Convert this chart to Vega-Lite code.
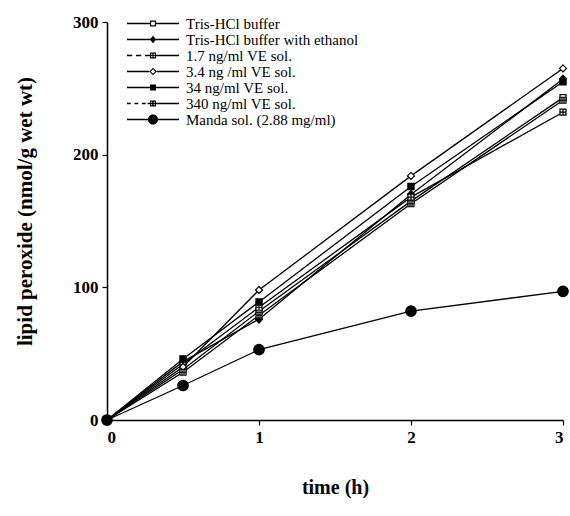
{
  "$schema": "https://vega.github.io/schema/vega-lite/v6.json",
  "width": 456,
  "height": 398,
  "autosize": "none",
  "padding": {"left": 107, "top": 22, "right": 7, "bottom": 96},
  "background": "white",
  "config": {
    "view": {"stroke": null},
    "font": "Liberation Serif",
    "axis": {"grid": false, "domainColor": "black", "domainWidth": 1.5, "tickColor": "black", "tickWidth": 1.2, "tickSize": 5, "labelFont": "Liberation Serif", "labelFontWeight": "bold", "labelFontSize": 17, "labelColor": "black", "titleFont": "Liberation Serif", "titleFontWeight": "bold", "titleFontSize": 20, "titleColor": "black"}
  },
  "data": {"values": [
    {"series": "Tris-HCl buffer", "time": 0, "lp": 0},
    {"series": "Tris-HCl buffer", "time": 0.5, "lp": 38},
    {"series": "Tris-HCl buffer", "time": 1, "lp": 82},
    {"series": "Tris-HCl buffer", "time": 2, "lp": 165},
    {"series": "Tris-HCl buffer", "time": 3, "lp": 243},
    {"series": "Tris-HCl buffer with ethanol", "time": 0, "lp": 0},
    {"series": "Tris-HCl buffer with ethanol", "time": 0.5, "lp": 44},
    {"series": "Tris-HCl buffer with ethanol", "time": 1, "lp": 76},
    {"series": "Tris-HCl buffer with ethanol", "time": 2, "lp": 170},
    {"series": "Tris-HCl buffer with ethanol", "time": 3, "lp": 257},
    {"series": "1.7 ng/ml VE sol.", "time": 0, "lp": 0},
    {"series": "1.7 ng/ml VE sol.", "time": 0.5, "lp": 42},
    {"series": "1.7 ng/ml VE sol.", "time": 1, "lp": 85},
    {"series": "1.7 ng/ml VE sol.", "time": 2, "lp": 168},
    {"series": "1.7 ng/ml VE sol.", "time": 3, "lp": 232},
    {"series": "3.4 ng /ml VE sol.", "time": 0, "lp": 0},
    {"series": "3.4 ng /ml VE sol.", "time": 0.5, "lp": 40},
    {"series": "3.4 ng /ml VE sol.", "time": 1, "lp": 98},
    {"series": "3.4 ng /ml VE sol.", "time": 2, "lp": 184},
    {"series": "3.4 ng /ml VE sol.", "time": 3, "lp": 265},
    {"series": "34 ng/ml VE sol.", "time": 0, "lp": 0},
    {"series": "34 ng/ml VE sol.", "time": 0.5, "lp": 46},
    {"series": "34 ng/ml VE sol.", "time": 1, "lp": 89},
    {"series": "34 ng/ml VE sol.", "time": 2, "lp": 176},
    {"series": "34 ng/ml VE sol.", "time": 3, "lp": 255},
    {"series": "340 ng/ml VE sol.", "time": 0, "lp": 0},
    {"series": "340 ng/ml VE sol.", "time": 0.5, "lp": 36},
    {"series": "340 ng/ml VE sol.", "time": 1, "lp": 79},
    {"series": "340 ng/ml VE sol.", "time": 2, "lp": 163},
    {"series": "340 ng/ml VE sol.", "time": 3, "lp": 241},
    {"series": "Manda sol. (2.88 mg/ml)", "time": 0, "lp": 0},
    {"series": "Manda sol. (2.88 mg/ml)", "time": 0.5, "lp": 26},
    {"series": "Manda sol. (2.88 mg/ml)", "time": 1, "lp": 53},
    {"series": "Manda sol. (2.88 mg/ml)", "time": 2, "lp": 82},
    {"series": "Manda sol. (2.88 mg/ml)", "time": 3, "lp": 97}
  ]},
  "encoding": {
    "x": {"field": "time", "type": "quantitative", "scale": {"domain": [0, 3], "nice": false}, "axis": {"values": [0, 1, 2, 3], "title": "time (h)", "titlePadding": 32, "labelPadding": 4}},
    "y": {"field": "lp", "type": "quantitative", "scale": {"domain": [0, 300], "nice": false}, "axis": {"values": [0, 100, 200, 300], "title": "lipid peroxide (nmol/g wet wt)", "titleFontSize": 21, "titleX": -82, "titleY": 189, "titleAlign": "center", "titleBaseline": "middle", "labelPadding": 4}}
  },
  "layer": [
    {
      "mark": {"type": "line", "color": "black", "strokeWidth": 1.3},
      "encoding": {"detail": {"field": "series"}}
    },
    {
      "mark": {"type": "point", "filled": false, "stroke": "black", "strokeWidth": 1.2, "size": 100, "opacity": 1},
      "encoding": {
        "shape": {
          "field": "series", "type": "nominal",
          "scale": {
            "domain": ["Tris-HCl buffer", "Tris-HCl buffer with ethanol", "1.7 ng/ml VE sol.", "3.4 ng /ml VE sol.", "34 ng/ml VE sol.", "340 ng/ml VE sol.", "Manda sol. (2.88 mg/ml)"],
            "range": [
              "M-0.6,-0.6H0.6V0.6H-0.6Z",
              "M0,-0.8L0.7,0L0,0.8L-0.7,0Z",
              "M-0.6,-0.6H0.6V0.6H-0.6ZM0,-0.6V0.6M-0.6,0H0.6",
              "M0,-0.7L0.7,0L0,0.7L-0.7,0Z",
              "M-0.62,-0.62H0.62V0.62H-0.62Z",
              "M-0.6,-0.6H0.6V0.6H-0.6ZM-0.2,-0.6V0.6M0.2,-0.6V0.6M-0.6,0H0.6",
              "M-1.05,0A1.05,1.05,0,1,1,1.05,0A1.05,1.05,0,1,1,-1.05,0Z"
            ]
          },
          "legend": null
        },
        "fill": {
          "field": "series", "type": "nominal",
          "scale": {
            "domain": ["Tris-HCl buffer", "Tris-HCl buffer with ethanol", "1.7 ng/ml VE sol.", "3.4 ng /ml VE sol.", "34 ng/ml VE sol.", "340 ng/ml VE sol.", "Manda sol. (2.88 mg/ml)"],
            "range": ["white", "black", "white", "white", "black", "white", "black"]
          },
          "legend": null
        }
      }
    },
    {
      "transform": [{"filter": "false"}],
      "mark": {"type": "point", "filled": true, "color": "black", "size": 225, "opacity": 1},
      "encoding": {
        "shape": {
          "field": "series", "type": "nominal",
          "scale": {
            "domain": ["Tris-HCl buffer", "Tris-HCl buffer with ethanol", "1.7 ng/ml VE sol.", "3.4 ng /ml VE sol.", "34 ng/ml VE sol.", "340 ng/ml VE sol.", "Manda sol. (2.88 mg/ml)"],
            "range": [
              "M-1,-0.09H2.07V0.09H-1ZM2.87,-0.09H5.93V0.09H2.87ZM2.07,-0.4H2.87V0.4H2.07ZM2.23,-0.24V0.24H2.71V-0.24Z",
              "M-1,-0.09H5.93V0.09H-1ZM2.47,-0.5L2.9,0L2.47,0.5L2.04,0Z",
              "M-1,-0.09H-0.3V0.09H-1ZM0.2,-0.09H0.9V0.09H0.2ZM1.4,-0.09H2.07V0.09H1.4ZM2.87,-0.09H5.93V0.09H2.87ZM2.07,-0.4H2.87V0.4H2.07ZM2.23,-0.24V0.24H2.71V-0.24ZM2.39,-0.24H2.55V0.24H2.39ZM2.23,-0.08H2.71V0.08H2.23Z",
              "M-1,-0.09H1.97V0.09H-1ZM2.97,-0.09H5.93V0.09H2.97ZM2.47,-0.5L2.97,0L2.47,0.5L1.97,0ZM2.47,-0.3L2.17,0L2.47,0.3L2.77,0Z",
              "M-1,-0.09H5.93V0.09H-1ZM2.07,-0.4H2.87V0.4H2.07Z",
              "M-1,-0.09H-0.5V0.09H-1ZM0,-0.09H0.5V0.09H0ZM1,-0.09H1.5V0.09H1ZM1.75,-0.09H2.07V0.09H1.75ZM2.87,-0.09H5.93V0.09H2.87ZM2.07,-0.4H2.87V0.4H2.07ZM2.23,-0.24V0.24H2.71V-0.24ZM2.32,-0.24H2.44V0.24H2.32ZM2.5,-0.24H2.62V0.24H2.5ZM2.23,-0.06H2.71V0.06H2.23Z",
              "M-1,-0.09H5.93V0.09H-1ZM1.8,0A0.67,0.67,0,1,1,3.14,0A0.67,0.67,0,1,1,1.8,0Z"
            ]
          },
          "legend": {
            "title": null,
            "orient": "none",
            "legendX": 20,
            "legendY": -6,
            "padding": 0,
            "rowPadding": -1,
            "labelFont": "Liberation Serif",
            "labelFontSize": 15,
            "labelColor": "black",
            "labelOffset": 44,
            "labelLimit": 300,
            "symbolSize": 225,
            "symbolFillColor": "black",
            "symbolStrokeWidth": 0
          }
        }
      }
    }
  ],
  "resolve": {"scale": {"shape": "independent", "fill": "independent"}}
}
